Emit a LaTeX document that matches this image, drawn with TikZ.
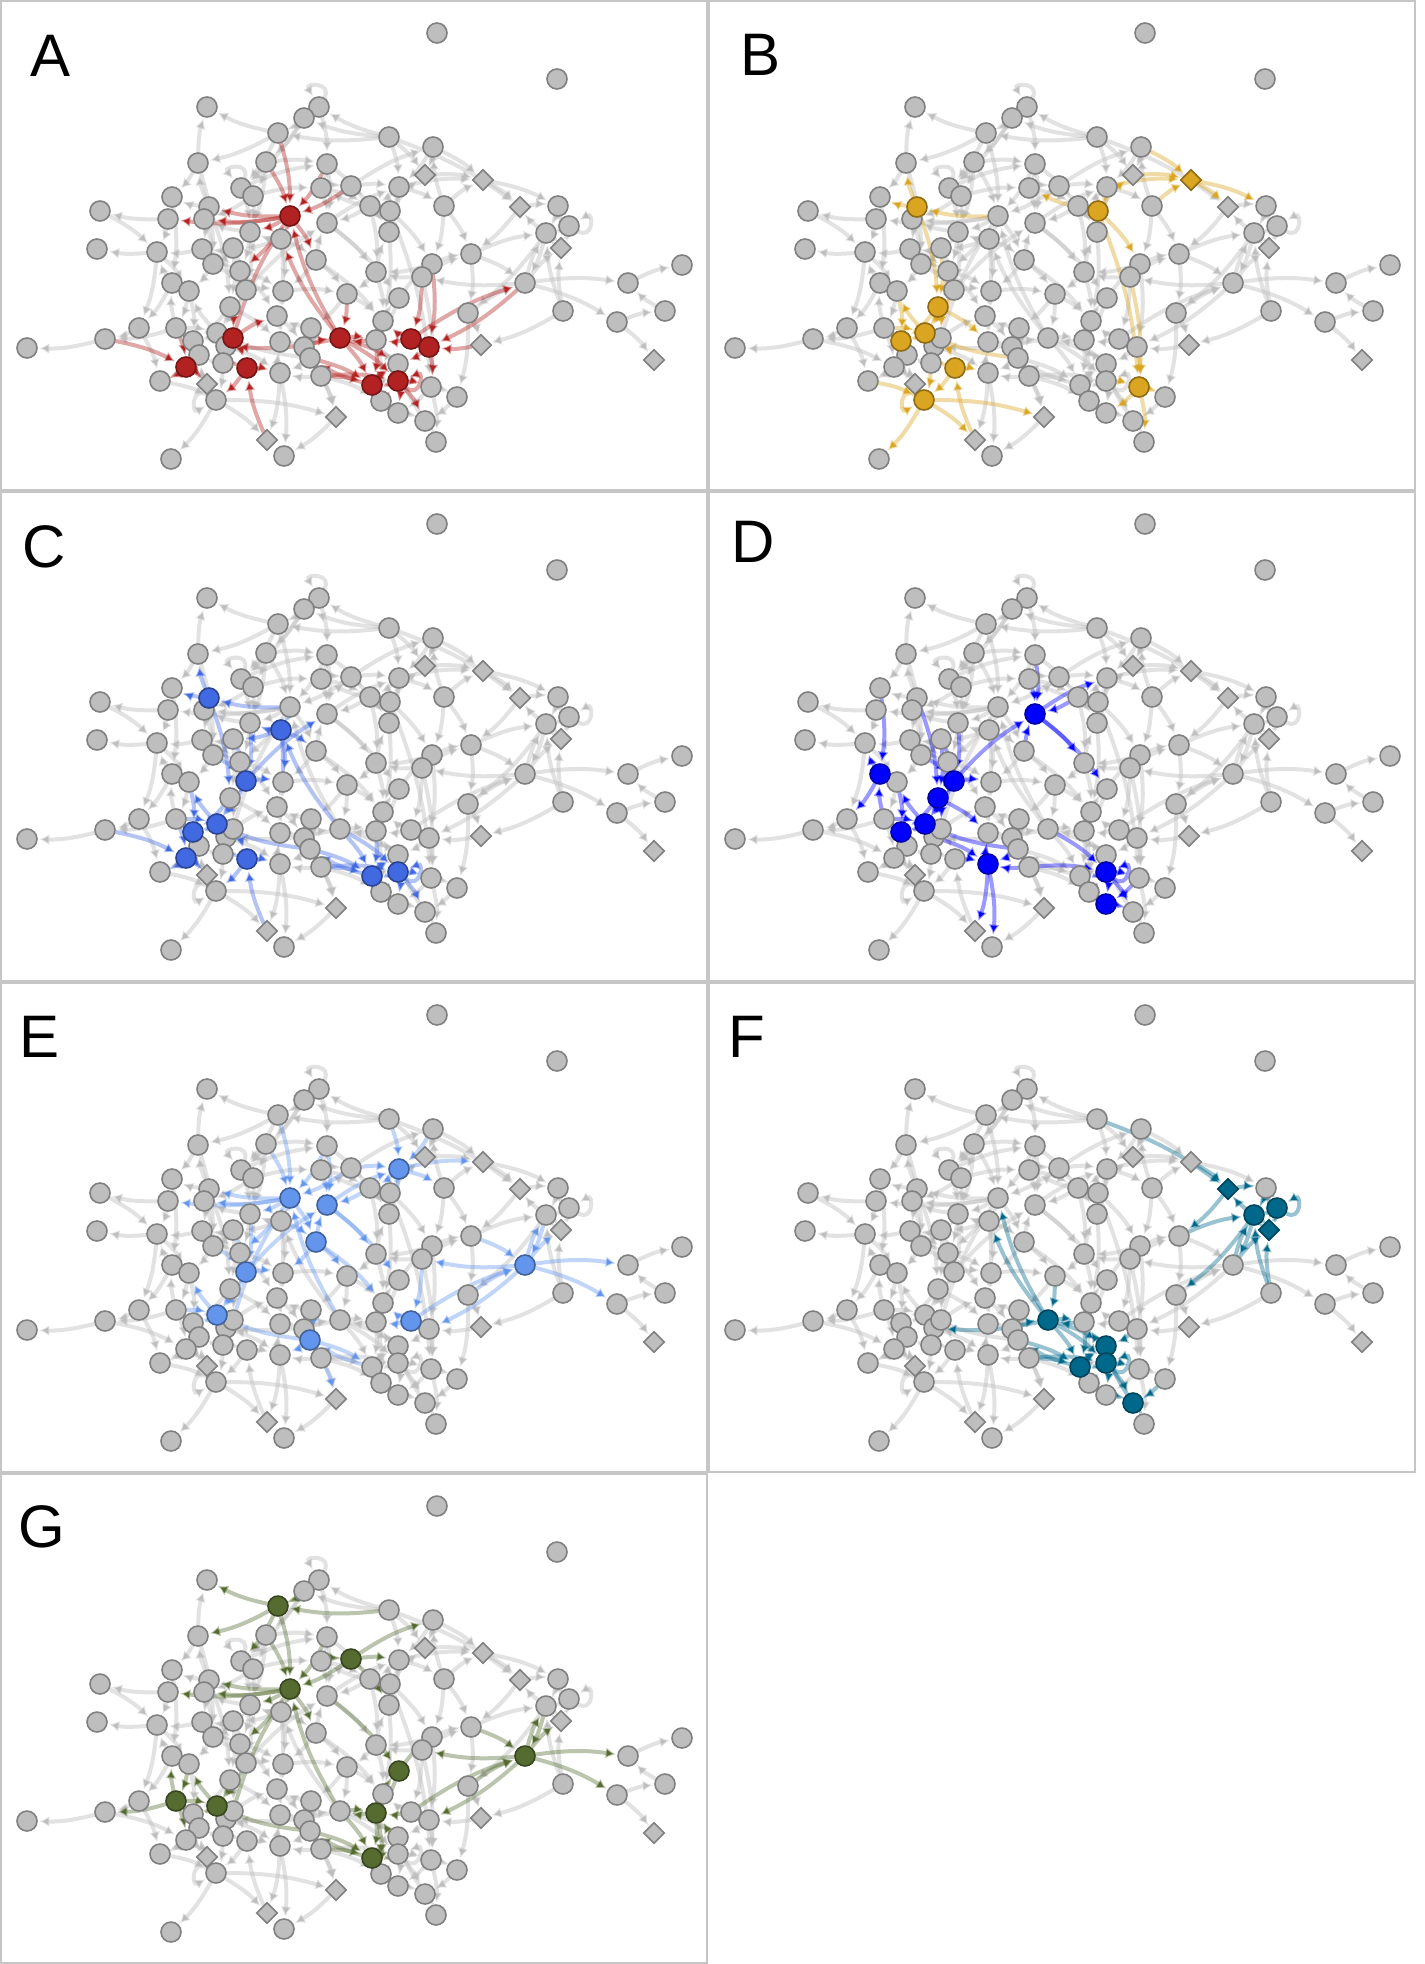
\documentclass[tikz,border=0pt]{standalone}
\usepackage{fontspec}
\setmainfont{Liberation Sans}
\usetikzlibrary{arrows.meta, shapes.geometric}

\definecolor{nodegrey}{HTML}{BEBEBE}
\definecolor{nodeline}{HTML}{808080}
\definecolor{framegrey}{HTML}{C6C6C6}
\definecolor{firebrick}{HTML}{B22222}
\definecolor{goldenrod}{HTML}{DAA520}
\definecolor{royalblue}{HTML}{4169E1}
\definecolor{pureblue}{HTML}{0000FF}
\definecolor{cornflower}{HTML}{6495ED}
\definecolor{deepsky}{HTML}{00688B}
\definecolor{darkolive}{HTML}{556B2F}

% id/x/y/shape, in pixels of one panel
\newcommand{\netnodes}{%
1/437/33/circ, 2/557/79/circ, 3/207/107/circ, 4/319/107/circ, 5/304/118/circ,
6/278/133/circ, 7/389/137/circ, 8/433/147/circ, 9/198/163/circ, 10/266/162/circ,
11/327/164/circ, 12/425/175/diam, 13/483/180/diam, 14/172/197/circ, 15/241/188/circ,
16/253/196/circ, 17/321/188/circ, 18/351/186/circ, 19/399/187/circ, 20/209/207/circ,
21/370/206/circ, 22/390/211/circ, 23/444/206/circ, 24/520/207/diam, 25/558/206/circ,
26/569/226/circ, 27/546/233/circ, 28/561/248/diam, 29/100/211/circ, 30/168/219/circ,
31/204/219/circ, 32/290/216/circ, 33/327/223/circ, 34/389/232/circ, 35/250/232/circ,
36/281/239/circ, 37/97/249/circ, 38/157/252/circ, 39/202/249/circ, 40/233/248/circ,
41/471/254/circ, 42/316/260/circ, 43/213/264/circ, 44/240/271/circ, 45/376/272/circ,
46/432/264/circ, 47/422/277/circ, 48/525/283/circ, 49/628/283/circ, 50/682/265/circ,
51/172/283/circ, 52/189/291/circ, 53/246/290/circ, 54/283/291/circ, 55/347/294/circ,
56/399/298/circ, 57/230/307/circ, 58/277/316/circ, 59/468/313/circ, 60/563/311/circ,
61/665/311/circ, 62/617/322/circ, 63/383/321/circ, 64/139/328/circ, 65/176/328/circ,
66/217/333/circ, 67/311/328/circ, 68/105/339/circ, 69/27/348/circ, 70/193/341/circ,
71/226/346/circ, 72/280/342/circ, 73/304/347/circ, 74/340/338/circ, 75/376/340/circ,
76/411/339/circ, 77/429/347/circ, 78/481/345/diam, 79/654/360/diam, 80/199/355/circ,
81/223/363/circ, 82/310/358/circ, 83/398/364/circ, 84/186/367/circ, 85/247/368/circ,
86/280/373/circ, 87/321/376/circ, 88/398/381/circ, 89/372/385/circ, 90/160/381/circ,
91/207/384/diam, 92/431/387/circ, 93/457/397/circ, 94/216/400/circ, 95/381/401/circ,
96/398/413/circ, 97/425/421/circ, 98/336/417/diam, 99/436/442/circ, 100/267/440/diam,
101/284/456/circ, 102/171/459/circ, 103/233/338/circ}

% source/target
\newcommand{\netedges}{%
6/3, 9/3, 6/9, 7/6, 7/4, 7/5, 5/6, 4/5, 7/12, 8/12, 23/8, 8/13, 12/13, 19/13,
23/13, 22/12, 18/8, 18/19, 17/18, 16/17, 15/11, 15/16, 10/15, 9/14, 20/9, 20/14,
14/30, 10/32, 6/32, 11/32, 11/17, 10/16, 5/10, 30/29, 17/21, 21/22, 22/34, 21/33,
19/22, 19/23, 7/24, 13/24, 13/25, 24/25, 25/26, 26/27, 27/24, 27/28, 28/27, 26/28,
25/27, 33/19, 18/32, 18/34, 32/20, 32/30, 32/31, 32/35, 32/36, 32/44, 33/56, 32/42,
35/31, 35/40, 31/39, 30/38, 39/38, 40/39, 43/39, 36/35, 36/54, 36/40, 42/33, 42/63,
42/55, 45/34, 45/55, 46/45, 47/45, 47/41, 41/27, 46/41, 48/28, 48/27, 27/48, 48/49,
48/62, 48/47, 59/48, 76/48, 48/77, 60/28, 60/78, 27/59, 56/46, 49/50, 61/49, 62/61,
62/79, 59/93, 47/92, 78/77, 51/38, 38/37, 64/68, 65/68, 68/69, 68/84, 65/51, 51/52,
43/52, 44/53, 53/33, 53/57, 57/66, 57/70, 66/70, 70/65, 65/66, 66/52, 44/57, 43/44,
40/43, 53/54, 54/58, 58/72, 103/32, 74/32, 55/67, 67/58, 54/55, 63/75, 63/56, 56/75,
103/71, 66/103, 103/85, 70/84, 80/84, 84/90, 80/70, 81/80, 81/85, 71/81, 85/86, 86/72,
72/73, 73/82, 82/87, 87/86, 67/73, 73/74, 74/75, 76/75, 76/77, 83/88, 88/89, 89/83,
83/75, 82/89, 87/89, 88/96, 96/97, 97/99, 92/99, 92/93, 95/96, 89/95, 98/101, 86/101,
94/102, 94/98, 100/85, 91/94, 84/91, 91/80, 85/94, 64/90, 74/89, 74/88, 74/83, 74/36,
74/71, 75/89, 88/97, 97/83, 76/63, 77/92, 82/66, 87/95, 89/82, 75/74, 22/17, 22/92,
20/57, 53/66, 60/27, 10/35, 16/35, 11/33, 17/33, 21/45, 22/46, 23/46, 19/34, 9/43,
14/51, 38/64, 51/64, 52/70, 43/53, 39/44, 35/44, 36/58, 42/54, 55/74, 58/73, 45/63,
34/63, 47/76, 46/77, 41/59, 59/78, 93/97, 92/96, 87/98, 82/98, 86/100, 81/94, 80/90,
89/96, 77/83, 75/95, 67/82, 71/86, 57/103, 44/58, 57/72, 65/84, 52/65, 40/57, 31/43,
38/52, 29/38, 20/31, 15/35, 16/31, 10/11, 4/11, 5/15, 6/15, 11/21, 7/19, 19/21, 8/19,
23/41, 24/41, 25/28, 41/48, 46/47, 55/63, 33/45, 36/42, 35/53, 40/53, 44/54, 73/87,
82/86, 87/88, 88/92, 94/100, 90/94, 66/81, 103/58}

% id/out/in
\newcommand{\netloops}{4/60/120, 15/70/130, 26/330/30, 88/320/20, 94/150/210}

\begin{document}
\begin{tikzpicture}[
    x=0.5pt, y=-0.5pt,
    circ/.style={circle, inner sep=0pt, minimum size=10pt},
    diam/.style={diamond, aspect=1, inner sep=0pt, minimum size=10.5pt},
    greynode/.style={fill=nodegrey, draw=nodeline, line width=0.8pt},
    hinode/.style={fill=#1, draw=#1!65!black, line width=0.8pt},
    greyedge/.style={draw=nodegrey, draw opacity=0.45, line width=2pt,
                     -{Latex[length=5pt, width=5.5pt]}, shorten >=1pt},
    hiedge/.style={draw=#1, draw opacity=0.4, line width=2pt,
                   -{Latex[length=5pt, width=5.5pt]}, shorten >=1pt},
    panelframe/.style={draw=framegrey, line width=1.2pt},
    panellabel/.style={font=\fontsize{30}{30}\selectfont, inner sep=0pt}
]
    \useasboundingbox (0,0) rectangle (1424,1964);

    \foreach \pn/\ox/\oy/\lx/\ly/\hcol/\hlist in {
        A/0/0/51/56/firebrick/{32,103,84,85,74,76,77,89,88},
        B/708/0/52/55/goldenrod/{20,22,13,57,66,70,85,92,94},
        C/0/491/44/56/royalblue/{20,36,53,70,66,84,85,89,88},
        D/708/491/45/51/pureblue/{33,51,53,57,70,66,86,88,96},
        E/0/982/40/55/cornflower/{19,32,33,42,53,48,66,76,82},
        F/708/982/39/55/deepsky/{24,27,26,28,74,83,89,88,97},
        G/0/1473/42/54/darkolive/{6,18,32,48,56,65,66,75,89}}{
    \begin{scope}[shift={(\ox,\oy)}]
        \draw[panelframe] (1,1) rectangle (707,490);
        \node[panellabel] (lab\pn) at (\lx,\ly) {\pn};

        % mark the highlighted nodes of this panel
        \foreach \h in \hlist {\expandafter\xdef\csname hl\pn-\h\endcsname{1}}

        % node outlines for the connectors to end on
        \foreach \id/\nx/\ny/\shp in \netnodes
            \node[\shp] (\pn-\id) at (\nx,\ny) {};

        % grey connectors first
        \foreach \src/\dst in \netedges {
            \def\ishl{0}
            \ifcsname hl\pn-\src\endcsname \def\ishl{1}\fi
            \ifcsname hl\pn-\dst\endcsname \def\ishl{1}\fi
            \ifnum\ishl=0
                \draw[greyedge] (\pn-\src) to[bend left=8] (\pn-\dst);
            \fi
        }
        \foreach \id/\lo/\li in \netloops {
            \ifcsname hl\pn-\id\endcsname\else
                \draw[greyedge] (\pn-\id.\lo) .. controls +(\lo:9pt) and +(\li:9pt) .. (\pn-\id.\li);
            \fi
        }

        % then the coloured ones
        \foreach \src/\dst in \netedges {
            \def\ishl{0}
            \ifcsname hl\pn-\src\endcsname \def\ishl{1}\fi
            \ifcsname hl\pn-\dst\endcsname \def\ishl{1}\fi
            \ifnum\ishl=1
                \draw[hiedge=\hcol] (\pn-\src) to[bend left=8] (\pn-\dst);
            \fi
        }
        \foreach \id/\lo/\li in \netloops {
            \ifcsname hl\pn-\id\endcsname
                \draw[hiedge=\hcol] (\pn-\id.\lo) .. controls +(\lo:9pt) and +(\li:9pt) .. (\pn-\id.\li);
            \fi
        }

        % grey nodes, then highlighted nodes on top
        \foreach \id/\nx/\ny/\shp in \netnodes {
            \ifcsname hl\pn-\id\endcsname\else
                \node[\shp, greynode] (\pn v\id) at (\nx,\ny) {};
            \fi
        }
        \foreach \id/\nx/\ny/\shp in \netnodes {
            \ifcsname hl\pn-\id\endcsname
                \node[\shp, hinode=\hcol] (\pn v\id) at (\nx,\ny) {};
            \fi
        }
    \end{scope}
    }
\end{tikzpicture}
\end{document}
